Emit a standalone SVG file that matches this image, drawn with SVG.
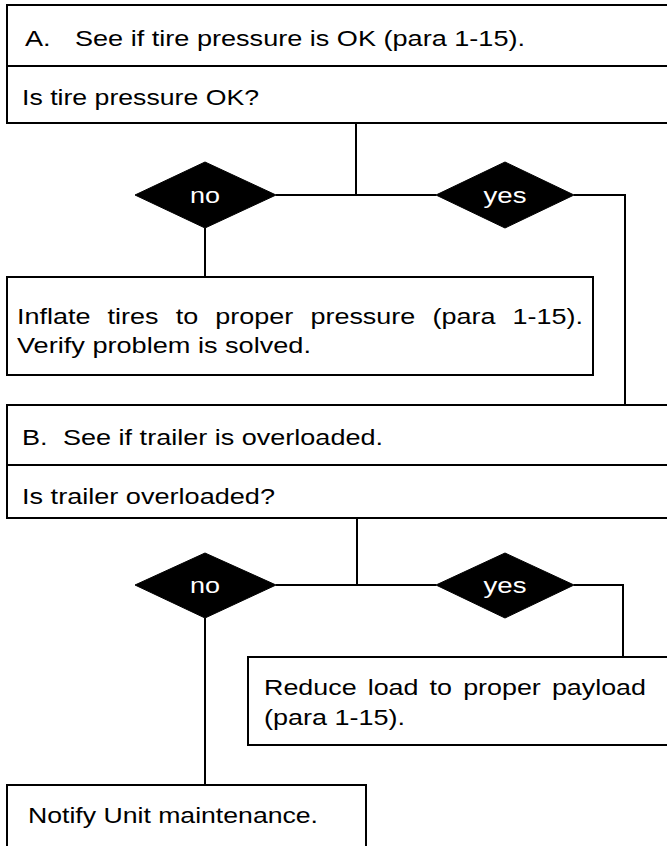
<svg xmlns="http://www.w3.org/2000/svg" width="667" height="846" viewBox="0 0 667 846">
<style>
.box{fill:#fff;stroke:#000;stroke-width:2}
.div{stroke:#000;stroke-width:2}
.dia{fill:#000;stroke:#000;stroke-width:1}
.t{font-family:"Liberation Sans",Arial,Helvetica,sans-serif;font-size:22px;fill:#000}
.dt{font-family:"Liberation Sans",Arial,Helvetica,sans-serif;font-size:22px;fill:#fff;text-anchor:middle}
.con{fill:none;stroke:#000;stroke-width:2}
</style>
<rect width="667" height="846" fill="#fff"/>
<g id="connectors">
<path class="con" d="M356,123 V195 M276,195 H436 M574,195 H625 V405 M205,228 V277"/>
<path class="con" d="M357,518 V585 M276,585 H436 M574,585 H623 V657 M205,618 V785"/>
</g>
<g id="stepA">
<rect class="box" x="7" y="5" width="680" height="118"/>
<line class="div" x1="7" y1="66" x2="687" y2="66"/>
<text class="t" x="25" y="46" textLength="25.6" lengthAdjust="spacingAndGlyphs">A.</text>
<text class="t" x="75" y="46" textLength="450" lengthAdjust="spacingAndGlyphs">See if tire pressure is OK (para 1-15).</text>
<text class="t" x="22" y="105" textLength="237" lengthAdjust="spacingAndGlyphs">Is tire pressure OK?</text>
</g>
<g id="noA">
<polygon class="dia" points="135,195 205,162 276,195 205,228"/>
<text class="dt" x="205" y="203" textLength="30" lengthAdjust="spacingAndGlyphs">no</text>
</g>
<g id="yesA">
<polygon class="dia" points="436,195 505,162 574,195 505,228"/>
<text class="dt" x="505" y="203" textLength="43" lengthAdjust="spacingAndGlyphs">yes</text>
</g>
<g id="inflate">
<rect class="box" x="7" y="277" width="586" height="98"/>
<text class="t" x="17" y="324" word-spacing="7.9" textLength="566" lengthAdjust="spacingAndGlyphs">Inflate tires to proper pressure (para 1-15).</text>
<text class="t" x="17" y="353" textLength="294" lengthAdjust="spacingAndGlyphs">Verify problem is solved.</text>
</g>
<g id="stepB">
<rect class="box" x="7" y="405" width="680" height="113"/>
<line class="div" x1="7" y1="465" x2="687" y2="465"/>
<text class="t" x="22" y="445" textLength="25.6" lengthAdjust="spacingAndGlyphs">B.</text>
<text class="t" x="63" y="445" textLength="320" lengthAdjust="spacingAndGlyphs">See if trailer is overloaded.</text>
<text class="t" x="22" y="504" textLength="253" lengthAdjust="spacingAndGlyphs">Is trailer overloaded?</text>
</g>
<g id="noB">
<polygon class="dia" points="135,585 205,553 276,585 205,618"/>
<text class="dt" x="205" y="593" textLength="30" lengthAdjust="spacingAndGlyphs">no</text>
</g>
<g id="yesB">
<polygon class="dia" points="436,585 505,553 574,585 505,618"/>
<text class="dt" x="505" y="593" textLength="43" lengthAdjust="spacingAndGlyphs">yes</text>
</g>
<g id="reduce">
<rect class="box" x="248" y="657" width="440" height="88"/>
<text class="t" x="264" y="695" word-spacing="3" textLength="382" lengthAdjust="spacingAndGlyphs">Reduce load to proper payload</text>
<text class="t" x="264" y="725" textLength="141" lengthAdjust="spacingAndGlyphs">(para 1-15).</text>
</g>
<g id="notify">
<rect class="box" x="7" y="785" width="359" height="70"/>
<text class="t" x="28" y="823" textLength="290" lengthAdjust="spacingAndGlyphs">Notify Unit maintenance.</text>
</g>
</svg>
